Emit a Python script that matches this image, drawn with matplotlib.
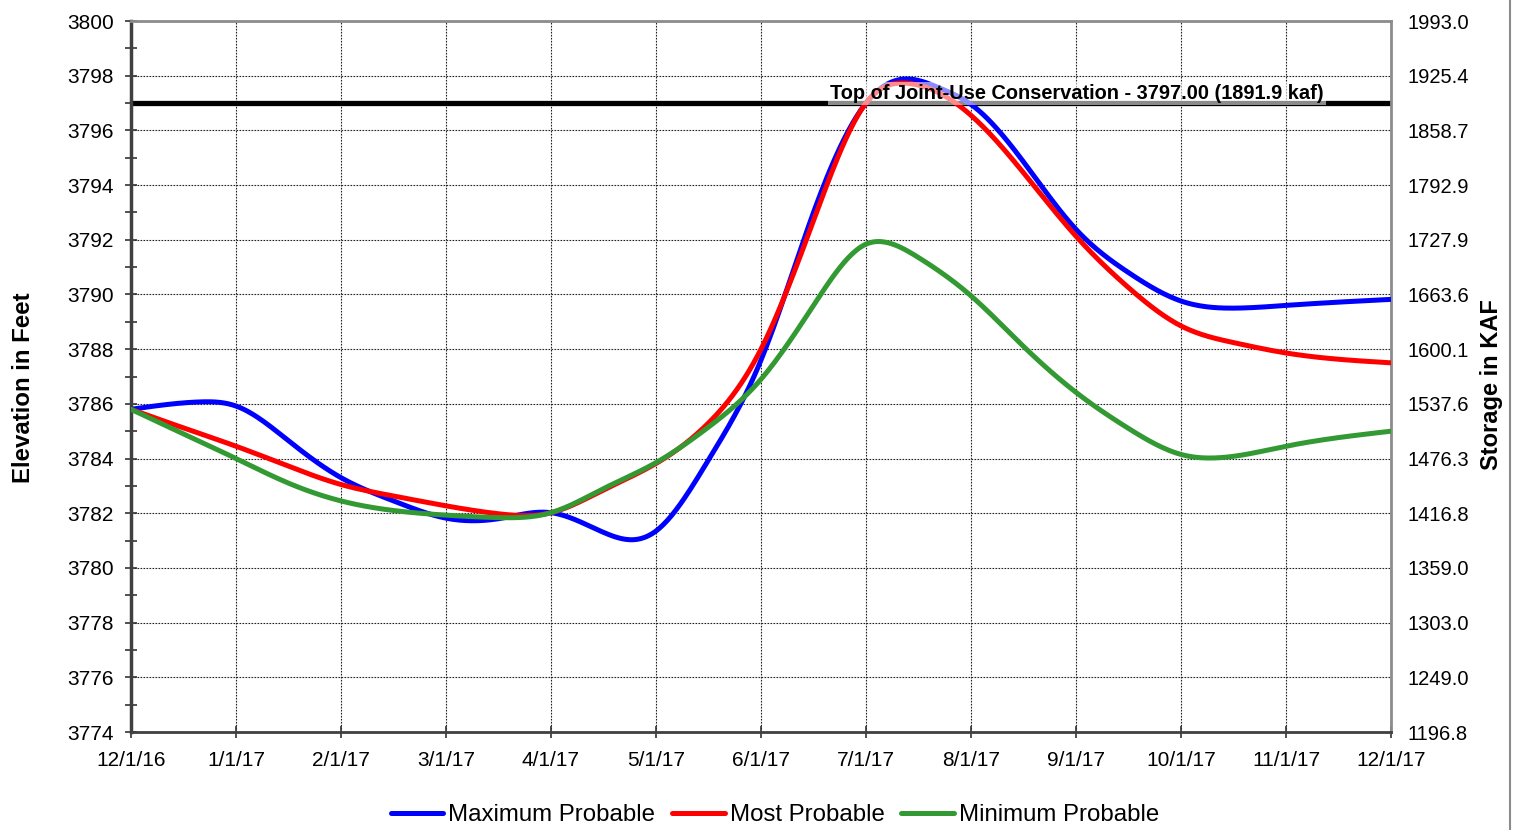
import numpy as np
import matplotlib
matplotlib.use("Agg")
import matplotlib.pyplot as plt
from matplotlib.lines import Line2D

plt.rcParams['font.family'] = ['Liberation Sans', 'DejaVu Sans']

# ---- data (month index from 12/1/16) ----
month_labels = ["12/1/16", "1/1/17", "2/1/17", "3/1/17", "4/1/17", "5/1/17", "6/1/17",
                "7/1/17", "8/1/17", "9/1/17", "10/1/17", "11/1/17", "12/1/17"]

max_t = [0, 0.65, 1, 1.5, 2, 2.5, 3, 3.5, 4, 4.5, 4.77, 5, 5.5, 6, 6.5, 7, 7.4, 7.7, 8,
         8.5, 9, 9.5, 10, 10.5, 11, 12]
max_v = [3785.80, 3786.07, 3785.92, 3784.65, 3783.30, 3782.45, 3781.82, 3781.80, 3782.02,
         3781.30, 3781.03, 3781.35, 3783.95, 3787.60, 3793.00, 3797.00, 3797.88, 3797.55,
         3796.95, 3794.85, 3792.38, 3790.80, 3789.76, 3789.50, 3789.60, 3789.82]

most_t = [0, 0.5, 1, 1.5, 2, 2.5, 3, 3.5, 4, 4.5, 5, 5.5, 6, 6.5, 7, 7.4, 8, 8.5, 9, 9.5,
          10, 10.5, 11, 12]
most_v = [3785.80, 3785.12, 3784.45, 3783.72, 3783.05, 3782.63, 3782.27, 3781.98, 3782.02,
          3782.85, 3783.82, 3785.30, 3788.00, 3792.70, 3797.00, 3797.72, 3796.55, 3794.45,
          3792.13, 3790.25, 3788.85, 3788.24, 3787.86, 3787.50]

min_t = [0, 0.5, 1, 1.5, 2, 2.5, 3, 3.5, 4, 4.5, 5, 5.5, 6, 6.5, 7, 7.15, 7.5, 8, 8.5, 9,
         9.5, 10, 10.3, 11, 12]
min_v = [3785.80, 3784.90, 3784.00, 3783.10, 3782.45, 3782.10, 3781.93, 3781.84, 3782.02,
         3782.90, 3783.85, 3785.15, 3786.90, 3789.60, 3791.84, 3791.93, 3791.35, 3789.95,
         3788.10, 3786.42, 3785.10, 3784.15, 3784.02, 3784.45, 3785.00]

elev_ticks = [3774, 3776, 3778, 3780, 3782, 3784, 3786, 3788, 3790, 3792, 3794, 3796, 3798, 3800]
storage_labels = ["1196.8", "1249.0", "1303.0", "1359.0", "1416.8", "1476.3", "1537.6",
                  "1600.1", "1663.6", "1727.9", "1792.9", "1858.7", "1925.4", "1993.0"]

top_joint_use = 3797.0
series_names = ["Maximum Probable", "Most Probable", "Minimum Probable"]
series_colors = ["#0000FF", "#FF0000", "#339933"]


def natural_spline(x, y, n=600):
    x = np.asarray(x, float)
    y = np.asarray(y, float)
    k = len(x)
    h = np.diff(x)
    A = np.zeros((k, k))
    b = np.zeros(k)
    A[0, 0] = A[-1, -1] = 1
    for i in range(1, k - 1):
        A[i, i - 1] = h[i - 1]
        A[i, i] = 2 * (h[i - 1] + h[i])
        A[i, i + 1] = h[i]
        b[i] = 3 * ((y[i + 1] - y[i]) / h[i] - (y[i] - y[i - 1]) / h[i - 1])
    c = np.linalg.solve(A, b)
    bb = (y[1:] - y[:-1]) / h - h * (2 * c[:-1] + c[1:]) / 3
    d = (c[1:] - c[:-1]) / (3 * h)
    xs = np.linspace(x[0], x[-1], n)
    idx = np.clip(np.searchsorted(x, xs) - 1, 0, k - 2)
    dx = xs - x[idx]
    ys = y[idx] + bb[idx] * dx + c[idx] * dx ** 2 + d[idx] * dx ** 3
    return xs, ys


fig = plt.figure(figsize=(15.2, 8.3), dpi=100)
ax = fig.add_axes([131 / 1520, 1 - 732 / 830, 1260 / 1520, 711 / 830])

ax.set_xlim(0, 12)
ax.set_ylim(3774, 3800)

ax.set_xticks(range(13))
ax.set_xticklabels(month_labels)
ax.set_yticks(elev_ticks)
ax.set_yticks(np.arange(3775, 3800, 2), minor=True)
ax.tick_params(axis='both', which='major', labelsize=15, direction='inout', length=9,
               width=1.2, color='#333333')
ax.tick_params(axis='y', which='minor', direction='inout', length=8, width=1.2, color='#333333')
ax.tick_params(axis='y', which='major', pad=8)
ax.tick_params(axis='x', which='major', pad=9)

ax.grid(True, which='major', color='#222222', linestyle=(0, (1.5, 1.2)), linewidth=0.8)
ax.set_axisbelow(True)

for s in ['top', 'right']:
    ax.spines[s].set_color('#8c8c8c')
    ax.spines[s].set_linewidth(2)
ax.spines['left'].set_color('#404040')
ax.spines['left'].set_linewidth(2.5)
ax.spines['bottom'].set_color('#404040')
ax.spines['bottom'].set_linewidth(2)

ax.axhline(top_joint_use, color='black', linewidth=3.8, zorder=2)

handles = []
for t, v, name, col in zip([max_t, most_t, min_t], [max_v, most_v, min_v], series_names, series_colors):
    xs, ys = natural_spline(t, v)
    h, = ax.plot(xs, ys, color=col, linewidth=3.6, solid_capstyle='round', label=name, zorder=3)
    handles.append(h)

ax.text((830 - 131) / 105, 3797.35, "Top of Joint-Use Conservation - 3797.00 (1891.9 kaf)",
        fontsize=14.4, fontweight='bold', ha='left', va='center', zorder=5,
        bbox=dict(boxstyle='square,pad=0.1', facecolor='white', edgecolor='none', alpha=0.55))

ax.set_ylabel("Elevation in Feet", fontsize=17.3, fontweight='bold')
ax.yaxis.set_label_coords((35 - 131) / 1260, 1 - (388 - 21) / 711)

ax2 = ax.twinx()
ax2.set_ylim(ax.get_ylim())
ax2.set_yticks(elev_ticks)
ax2.set_yticklabels(storage_labels)
ax2.tick_params(axis='y', length=0, labelsize=14.5, pad=12)
for s in ax2.spines.values():
    s.set_visible(False)
ax2.set_ylabel("Storage in KAF", fontsize=17, fontweight='bold')
ax2.yaxis.set_label_coords((1480 - 131) / 1260, 1 - (385 - 21) / 711)

fig.legend(handles=handles, labels=series_names, loc='center', bbox_to_anchor=(775 / 1520, 1 - 815 / 830),
           ncol=3, frameon=False, fontsize=17.3, handlelength=2.2, handletextpad=0.2,
           columnspacing=0.7, borderaxespad=0)

fig.add_artist(Line2D([1510 / 1520, 1510 / 1520], [0, 1], transform=fig.transFigure,
                      color='#8c8c8c', linewidth=1.5))

fig.savefig("out.png", dpi=100)
